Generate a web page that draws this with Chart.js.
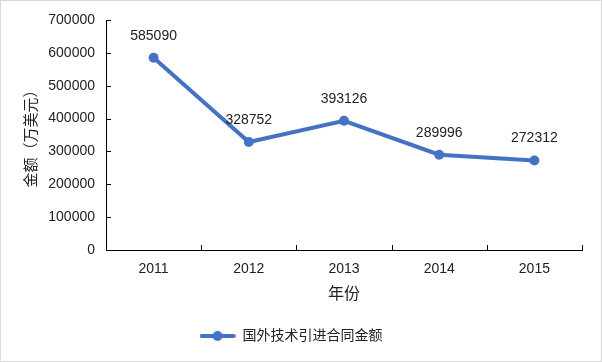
<!DOCTYPE html>
<html>
<head>
<meta charset="utf-8">
<script src="https://cdn.jsdelivr.net/npm/chart.js@4.4.0/dist/chart.umd.min.js"></script>
<style>
  body { margin: 0; background: #fff; }
  #wrap { width: 602px; height: 362px; }
</style>
</head>
<body>
<div id="wrap"><canvas id="chart" width="602" height="362"></canvas></div>
<script>
var years = ["2011", "2012", "2013", "2014", "2015"];
var amounts = [585090, 328752, 393126, 289996, 272312];
var seriesName = "国外技术引进合同金额";
var yMin = 0, yMax = 700000, yStep = 100000;

var blue = "#4472C4";
Chart.defaults.font.family = "'Liberation Sans', 'Noto Sans CJK SC', sans-serif";
Chart.defaults.color = "#222";

// legend marker: line with a dot
var marker = document.createElement("canvas");
marker.width = 36; marker.height = 12;
var mctx = marker.getContext("2d");
mctx.strokeStyle = blue; mctx.lineWidth = 4; mctx.lineCap = "round";
mctx.beginPath(); mctx.moveTo(2, 6); mctx.lineTo(34, 6); mctx.stroke();
mctx.fillStyle = blue;
mctx.beginPath(); mctx.arc(18, 6, 5, 0, Math.PI * 2); mctx.fill();

var extras = {
  id: "extras",
  beforeDraw: function(chart) {
    var ctx = chart.ctx;
    ctx.save();
    ctx.strokeStyle = "#d9d9d9";
    ctx.lineWidth = 1;
    ctx.strokeRect(0.5, 0.5, chart.width - 1, chart.height - 1);
    ctx.restore();
  },
  afterDraw: function(chart) {
    var ctx = chart.ctx, x = chart.scales.x, y = chart.scales.y;
    var area = chart.chartArea;
    ctx.save();
    ctx.strokeStyle = "#000";
    ctx.lineWidth = 1;
    ctx.beginPath();
    y.ticks.forEach(function(t) {
      var py = Math.round(y.getPixelForValue(t.value)) + 0.5;
      ctx.moveTo(area.left, py); ctx.lineTo(area.left + 5, py);
    });
    for (var i = 0; i <= years.length; i++) {
      var px;
      if (i === 0) px = area.left;
      else if (i === years.length) px = area.right;
      else px = (x.getPixelForValue(i - 1) + x.getPixelForValue(i)) / 2;
      px = Math.round(px) + 0.5;
      ctx.moveTo(px, area.bottom); ctx.lineTo(px, area.bottom - 5);
    }
    ctx.stroke();
    ctx.restore();
  },
  afterDatasetsDraw: function(chart) {
    var ctx = chart.ctx;
    var meta = chart.getDatasetMeta(0);
    ctx.save();
    ctx.font = "14px 'Liberation Sans', sans-serif";
    ctx.fillStyle = "#222";
    ctx.textAlign = "center";
    ctx.textBaseline = "middle";
    meta.data.forEach(function(pt, i) {
      ctx.fillText(String(amounts[i]), pt.x, pt.y - 22);
    });
    ctx.restore();
  }
};

new Chart(document.getElementById("chart"), {
  type: "line",
  data: {
    labels: years,
    datasets: [{
      label: seriesName,
      data: amounts,
      borderColor: blue,
      backgroundColor: blue,
      borderWidth: 4,
      pointRadius: 5,
      pointBackgroundColor: blue,
      pointBorderWidth: 0,
      tension: 0
    }]
  },
  options: {
    responsive: false,
    animation: false,
    devicePixelRatio: 1,
    layout: { padding: { top: 20, right: 20, bottom: 9, left: 0 } },
    plugins: {
      legend: {
        position: "bottom",
        labels: {
          usePointStyle: true,
          pointStyle: marker,
          pointStyleWidth: 36,
          font: { size: 14 },
          color: "#222",
          padding: 10
        }
      },
      tooltip: { enabled: false }
    },
    scales: {
      x: {
        offset: true,
        grid: { display: false, drawTicks: false },
        border: { display: true, color: "#000", width: 1 },
        ticks: { padding: 11, font: { size: 14 }, color: "#222" },
        title: { display: true, text: "年份", font: { size: 16 }, color: "#222", padding: { top: 0, bottom: 15 } },
        afterFit: function(s) { s.height = 69; }
      },
      y: {
        min: yMin,
        max: yMax,
        grid: { display: false, drawTicks: false },
        border: { display: true, color: "#000", width: 1 },
        ticks: {
          stepSize: yStep,
          padding: 11,
          font: { size: 14 },
          color: "#222",
          callback: function(v) { return String(v); }
        },
        title: { display: true, text: "金额（万美元）", font: { size: 15 }, color: "#222", padding: { top: 23, bottom: 0 } },
        afterFit: function(s) { s.width = 106; }
      }
    }
  },
  plugins: [extras]
});
</script>
</body>
</html>
